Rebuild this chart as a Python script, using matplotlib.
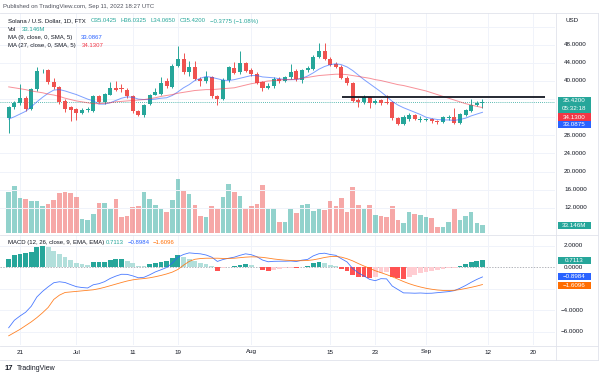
import matplotlib
matplotlib.use("Agg")
import matplotlib.pyplot as plt
from matplotlib.lines import Line2D
from matplotlib.patches import Rectangle
import numpy as np

# ---------------- data ----------------
open_ = [31.8, 34.2, 35.2, 36.3, 33.9, 38.2, 42.1, 42.4, 39.8, 38.6,
         35.6, 34.2, 33.9, 33.0, 33.6, 33.4, 36.7, 35.4, 37.0, 38.5,
         38.4, 38.1, 36.6, 33.3, 32.6, 34.9, 37.0, 37.1, 39.9, 38.7,
         43.4, 44.9, 42.0, 43.0, 40.5, 39.9, 40.8, 36.6, 36.0, 40.2,
         42.9, 42.0, 44.0, 42.4, 41.6, 39.7, 38.5, 38.8, 40.5, 40.0,
         40.8, 42.3, 40.2, 42.4, 42.7, 45.4, 46.7, 44.9, 43.8, 43.2,
         40.7, 39.5, 35.8, 35.3, 36.4, 35.2, 35.7, 35.3, 35.4, 31.8,
         30.6, 31.6, 32.5, 31.4, 31.5, 31.6, 31.2, 31.0, 31.8, 32.0,
         30.8, 32.5, 33.4, 34.7, 35.0425]
high = [34.5, 35.6, 39.3, 36.6, 38.5, 43.0, 42.6, 42.7, 40.7, 38.9,
        36.0, 34.5, 34.1, 34.0, 34.2, 36.9, 37.0, 37.4, 39.7, 40.1,
        39.4, 38.4, 37.0, 33.6, 35.0, 37.2, 38.5, 40.8, 40.6, 43.7,
        47.8, 46.2, 44.5, 44.5, 40.8, 42.1, 41.2, 37.0, 40.6, 43.3,
        44.2, 46.7, 44.3, 42.8, 41.9, 40.0, 39.5, 40.9, 40.9, 41.2,
        43.8, 42.6, 42.7, 43.3, 45.7, 48.4, 48.3, 45.2, 44.2, 43.5,
        41.0, 39.8, 36.2, 36.8, 36.7, 36.0, 36.1, 36.9, 35.6, 32.1,
        32.4, 32.9, 32.8, 32.3, 31.9, 31.9, 31.4, 32.3, 32.4, 34.0,
        33.0, 33.9, 36.0, 35.5, 36.0325]
low = [28.5, 33.8, 34.8, 33.4, 33.6, 37.8, 41.8, 39.4, 38.3, 34.9,
       33.2, 31.1, 31.5, 32.7, 33.1, 33.2, 35.1, 35.0, 36.8, 37.8,
       37.6, 36.3, 33.0, 32.2, 32.0, 34.6, 36.8, 36.9, 38.5, 38.4,
       43.0, 41.6, 41.2, 40.2, 38.8, 39.6, 36.3, 34.8, 35.8, 39.8,
       41.5, 41.6, 42.0, 41.2, 39.3, 37.7, 38.2, 38.5, 39.5, 39.7,
       40.5, 40.0, 39.6, 42.0, 42.4, 45.1, 44.6, 43.3, 42.9, 40.4,
       39.2, 35.3, 34.3, 35.0, 34.0, 34.9, 34.8, 34.9, 31.5, 30.2,
       30.3, 31.2, 31.3, 31.0, 31.1, 30.8, 30.6, 30.8, 31.5, 30.5,
       30.5, 32.2, 33.2, 34.4, 34.065]
close = [34.2, 35.2, 36.3, 33.9, 38.2, 42.1, 42.3, 39.8, 38.6, 35.4,
         33.8, 33.6, 33.0, 33.7, 33.75, 36.6, 35.4, 37.1, 38.5, 38.1,
         38.2, 36.6, 33.3, 32.6, 34.8, 37.0, 37.5, 39.6, 38.8, 43.4,
         44.9, 42.0, 43.1, 40.5, 39.9, 40.8, 36.6, 36.1, 40.3, 43.0,
         41.8, 44.0, 42.3, 41.5, 39.6, 38.5, 39.0, 40.5, 39.9, 40.8,
         42.0, 40.4, 42.4, 42.9, 45.4, 46.6, 44.9, 43.6, 43.2, 40.7,
         39.5, 35.6, 35.3, 36.5, 35.2, 35.6, 35.1, 35.1, 31.8, 30.6,
         32.0, 32.5, 31.6, 31.6, 31.6, 31.1, 31.0, 32.0, 32.0, 30.8,
         32.7, 33.6, 34.7, 35.1, 35.42]
volume_m = [173, 196, 145, 142, 135, 135, 115, 121, 138, 166,
            170, 167, 149, 61, 53, 80, 127, 124, 99, 140,
            69, 72, 109, 111, 173, 140, 117, 99, 90, 138,
            225, 177, 163, 117, 73, 69, 113, 102, 149, 203,
            171, 156, 105, 113, 121, 200, 101, 105, 47, 47,
            99, 86, 117, 121, 94, 99, 96, 134, 111, 145,
            90, 193, 116, 99, 116, 76, 73, 66, 111, 55,
            44, 88, 80, 75, 67, 63, 25, 28, 47, 99,
            55, 72, 87, 44, 33.146]
ma9 = [31.6, 32.1, 32.7, 33.3, 34.3, 35.4, 36.4, 37.3, 38.0, 38.1,
       37.8, 37.4, 37.0, 36.5, 36.0, 35.6, 34.9, 34.9, 35.2, 35.7,
       36.2, 36.5, 36.4, 36.0, 35.9, 35.9, 36.0, 36.2, 36.3, 36.8,
       37.6, 38.5, 39.2, 40.1, 40.6, 41.0, 40.8, 40.5, 40.2, 40.1,
       40.3, 40.6, 40.9, 41.2, 41.2, 40.9, 40.8, 40.7, 40.5, 40.3,
       40.3, 40.3, 40.6, 41.1, 41.8, 42.6, 43.2, 43.6, 43.8, 43.6,
       43.1, 42.3, 41.3, 40.3, 39.4, 38.5, 37.6, 36.6, 35.5, 34.7,
       34.1, 33.6, 33.1, 32.6, 32.0, 31.7, 31.5, 31.4, 31.4, 31.3,
       31.5, 31.8, 32.3, 32.7, 33.09]
ma27 = [38.7, 38.5, 38.3, 38.1, 37.8, 37.6, 37.4, 37.1, 36.9, 36.6,
        36.2, 35.9, 35.6, 35.4, 35.2, 35.0, 35.0, 35.1, 35.2, 35.4,
        35.5, 35.6, 35.7, 35.8, 35.9, 36.1, 36.3, 36.6, 36.8, 37.0,
        37.3, 37.5, 37.7, 37.9, 38.0, 38.1, 38.1, 38.2, 38.3, 38.4,
        38.5, 38.8, 39.1, 39.4, 39.6, 39.8, 40.0, 40.1, 40.2, 40.3,
        40.3, 40.4, 40.6, 40.8, 41.0, 41.2, 41.3, 41.4, 41.5, 41.5,
        41.4, 41.2, 41.0, 40.8, 40.6, 40.3, 40.1, 39.8, 39.5, 39.2,
        39.0, 38.7, 38.4, 38.1, 37.8, 37.4, 37.0, 36.6, 36.2, 35.8,
        35.4, 35.0, 34.7, 34.4, 34.13]
macd = [-5.65, -4.95, -4.55, -4.2, -3.64, -2.77, -2.25, -1.82, -1.44, -1.35,
        -1.42, -1.62, -1.81, -1.89, -1.93, -1.63, -1.53, -1.34, -1.04, -0.82,
        -0.65, -0.66, -0.8, -0.98, -0.93, -0.7, -0.43, -0.23, -0.02, 0.39,
        0.95, 1.2, 1.35, 1.3, 1.26, 1.15, 0.95, 0.55, 0.73, 0.85,
        0.95, 1.12, 1.26, 1.18, 0.99, 0.68, 0.52, 0.56, 0.57, 0.57,
        0.59, 0.54, 0.67, 0.74, 1.07, 1.27, 1.32, 1.2, 1.12, 0.8,
        0.5, -0.12, -0.52, -0.81, -1.13, -1.25, -1.06, -1.08, -1.75, -2.07,
        -2.39, -2.4, -2.42, -2.4, -2.43, -2.42, -2.37, -2.32, -2.27, -2.18,
        -1.96, -1.7, -1.4, -1.13, -0.8984]
signal = [-6.4, -6.1, -5.8, -5.45, -5.1, -4.7, -4.25, -3.75, -3.0, -2.6,
          -2.35, -2.3, -2.25, -2.2, -2.15, -2.1, -2.0, -1.87, -1.72, -1.57,
          -1.42, -1.28, -1.17, -1.1, -1.05, -0.98, -0.88, -0.76, -0.62, -0.45,
          -0.2, 0.2, 0.55, 0.75, 0.82, 0.85, 0.85, 0.85, 0.83, 0.83,
          0.85, 0.9, 0.95, 0.98, 0.97, 0.93, 0.86, 0.78, 0.72, 0.67,
          0.64, 0.62, 0.62, 0.64, 0.7, 0.8, 0.92, 1.0, 1.02, 0.95,
          0.8, 0.6, 0.35, 0.12, -0.1, -0.32, -0.5, -0.68, -0.88, -1.1,
          -1.33, -1.53, -1.7, -1.84, -1.96, -2.05, -2.12, -2.16, -2.17, -2.15,
          -2.08, -1.98, -1.87, -1.75, -1.6096]
hist = [0.75, 1.15, 1.25, 1.3, 1.46, 1.93, 2.0, 1.93, 1.56, 1.25,
        0.93, 0.68, 0.44, 0.31, 0.22, 0.47, 0.49, 0.53, 0.68, 0.75,
        0.77, 0.62, 0.37, 0.12, 0.12, 0.28, 0.45, 0.53, 0.6, 0.84,
        1.15, 1.0, 0.8, 0.55, 0.44, 0.3, 0.1, -0.3, -0.1, 0.02,
        0.1, 0.22, 0.31, 0.2, 0.02, -0.25, -0.34, -0.22, -0.15, -0.1,
        -0.05, -0.08, 0.05, 0.1, 0.37, 0.47, 0.4, 0.2, 0.1, -0.15,
        -0.3, -0.72, -0.87, -0.93, -1.03, -0.93, -0.56, -0.4, -0.87, -0.97,
        -1.06, -0.87, -0.72, -0.56, -0.47, -0.37, -0.25, -0.16, -0.1, -0.03,
        0.12, 0.28, 0.47, 0.62, 0.7113]

date_tick_index = [2, 12, 22, 30, 43, 57, 65, 74, 85, 93]
date_tick_labels = ["21", "Jul", "11", "19", "Aug", "15", "23", "Sep", "12", "20"]
price_grid = [52, 48, 44, 40, 36, 32, 28, 24, 20, 16, 12]
price_labels = [48, 44, 40, 28, 24, 20, 16, 12]
macd_grid = [2, 0, -2, -4, -6]
macd_labels = [2, 0, -4, -6]
resistance_level = 36.5
resistance_start, resistance_end = 59.1, 95.1
last_price = 35.42

# ---------------- style ----------------
UP, DOWN = "#26a69a", "#ef5350"
TXT = "#131722"
GRID = "#f0f3fa"
FAM = ["Liberation Sans", "DejaVu Sans"]
FS = 4.5

W, H = 600, 377
fig = plt.figure(figsize=(6, 3.77), dpi=100)
fig.patch.set_facecolor("white")

def rect(top, bottom, left=0, right=555):
    return [left / W, 1 - bottom / H, (right - left) / W, (bottom - top) / H]

XLIM = (-1.54, 96.86)
axv = fig.add_axes(rect(13, 234))
ax = fig.add_axes(rect(13, 234))
axm = fig.add_axes(rect(235, 345))
for a in (axv, ax, axm):
    a.set_xlim(*XLIM)
    a.axis("off")
ax.patch.set_alpha(0)
ax.set_ylim(6.225, 55.01)
axv.set_ylim(-2.9, 912)
axm.set_ylim(-7.26, 3.02)

n = len(close)
idx = np.arange(n)
up = np.array(close) >= np.array(open_)

# grids
for p in price_grid:
    ax.axhline(p, color=GRID, lw=0.7, zorder=0)
for m in macd_grid:
    if m != 0:
        axm.axhline(m, color=GRID, lw=0.7, zorder=0)
for t in date_tick_index:
    axv.axvline(t, color=GRID, lw=0.7, zorder=0)
    axm.axvline(t, color=GRID, lw=0.7, zorder=0)

# volume
axv.bar(idx, volume_m, width=0.82,
        color=[UP if u else DOWN for u in up], alpha=0.5, lw=0, zorder=1)

# candles
cols = [UP if u else DOWN for u in up]
ax.vlines(idx, low, high, colors=cols, lw=0.7, zorder=2)
body_lo = np.minimum(open_, close)
body_h = np.maximum(np.abs(np.array(close) - np.array(open_)), 0.12)
ax.bar(idx, body_h, bottom=body_lo, width=0.72, color=cols, lw=0, zorder=3)

# moving averages
ax.plot(idx, ma9, color="#2962ff", lw=0.7, alpha=0.6, zorder=4)
ax.plot(idx, ma27, color="#f23645", lw=0.7, alpha=0.55, zorder=4)

# last price dotted line and resistance line
ax.axhline(last_price, color=UP, lw=0.6, ls=(0, (1, 1.5)), zorder=1)
ax.hlines(resistance_level, resistance_start, resistance_end, color="#131722", lw=1.3, zorder=5)

# MACD
hcols = []
for i, h in enumerate(hist):
    prev = hist[i - 1] if i > 0 else None
    if h >= 0:
        hcols.append("#26a69a" if prev is None or h > prev else "#b2dfdb")
    else:
        hcols.append("#ff5252" if prev is None or h < prev else "#ffcdd2")
axm.axhline(0, color="#9598a1", lw=0.5, ls=(0, (2, 2)), zorder=1)
axm.bar(idx, hist, width=0.85, color=hcols, lw=0, zorder=2)
axm.plot(idx, macd, color="#2962ff", lw=0.6, alpha=0.85, zorder=3)
axm.plot(idx, signal, color="#ff6d00", lw=0.6, alpha=0.85, zorder=3)

# ---------------- axes labels ----------------
lx = 564 / 555
for p in price_labels:
    ax.text(lx, p, f"{p:.4f}", transform=ax.get_yaxis_transform(), ha="left", va="center",
            fontsize=FS, color=TXT, family=FAM, clip_on=False)
for m in macd_labels:
    s = f"{m:.4f}".replace("-", "\u2212")
    axm.text(lx if m >= 0 else lx - 3.5 / 555, m, s, transform=axm.get_yaxis_transform(),
             ha="left", va="center", fontsize=FS, color=TXT, family=FAM, clip_on=False)
for t, lab in zip(date_tick_index, date_tick_labels):
    axm.text(t, (345 - 352) / 110, lab, transform=axm.get_xaxis_transform(), ha="center",
             va="center", fontsize=FS, color=TXT, family=FAM, clip_on=False)

def T(x, y, s, color=TXT, size=FS, ha="left", **kw):
    fig.text(x / W, 1 - y / H, s, color=color, fontsize=size, ha=ha, va="center",
             family=FAM, **kw)

def box(top, bottom, color, lines, left=558, right=591):
    fig.patches.append(Rectangle((left / W, 1 - bottom / H), (right - left) / W,
                                 (bottom - top) / H, transform=fig.transFigure,
                                 facecolor=color, edgecolor="none", zorder=5))
    step = (bottom - top) / len(lines)
    for k, s in enumerate(lines):
        fig.text((left + right) / 2 / W, 1 - (top + step * (k + 0.5)) / H, s,
                 color="white", fontsize=FS, ha="center", va="center", family=FAM, zorder=6)

box(96.5, 112.5, UP, ["35.4200", "05:32:18"])
box(113.3, 120.8, "#f23645", ["34.1300"])
box(120.8, 128.3, "#2962ff", ["33.0875"])
box(221.5, 229, UP, ["33.146M"])
box(256.7, 263.5, UP, ["0.7113"])
box(273, 280.3, "#2962ff", ["\u22120.8984"])
box(281.5, 289, "#ff6d00", ["\u22121.6096"])

T(565, 20, "USD")

# header
T(3, 6.5, "Published on TradingView.com, Sep 11, 2022 18:27 UTC", color="#50535e", size=4.3)
T(8, 21, "Solana / U.S. Dollar, 1D, FTX", size=4.3)
T(91, 21, "O35.0425", color=UP, size=4.3)
T(120.5, 21, "H36.0325", color=UP, size=4.3)
T(150.5, 21, "L34.0650", color=UP, size=4.3)
T(180, 21, "C35.4200", color=UP, size=4.3)
T(210, 21, "\u22120.3775 (\u22121.08%)", color=UP, size=4.3)
T(8, 29.5, "Vol", size=4.3)
T(21.5, 29.5, "33.146M", color=UP, size=4.3)
T(8, 37.5, "MA (9, close, 0, SMA, 5)", size=4.3)
T(80.5, 37.5, "33.0867", color="#2962ff", size=4.3)
T(8, 45.5, "MA (27, close, 0, SMA, 5)", size=4.3)
T(81.5, 45.5, "34.1307", color="#f23645", size=4.3)
T(8, 242.3, "MACD (12, 26, close, 9, EMA, EMA)", size=4.3)
T(106, 242.3, "0.7113", color=UP, size=4.3)
T(127.5, 242.3, "\u22120.8984", color="#2962ff", size=4.3)
T(153, 242.3, "\u22121.6096", color="#ff6d00", size=4.3)

# footer
T(5, 368.5, "17", color=TXT, size=5.5, weight="bold")
T(17, 368.5, "TradingView", color=TXT, size=5)

# separators
def hline(y, x0, x1):
    fig.add_artist(Line2D([x0 / W, x1 / W], [1 - y / H, 1 - y / H], color="#e0e3eb", lw=0.6))
def vline(x, y0, y1):
    fig.add_artist(Line2D([x / W, x / W], [1 - y0 / H, 1 - y1 / H], color="#e0e3eb", lw=0.6))

hline(12.5, 0, 598)
hline(234.5, 0, 598)
hline(345.5, 0, 598)
hline(359.5, 0, 598)
vline(555.5, 12.5, 359.5)
vline(597.5, 12.5, 359.5)

fig.savefig("out.png", dpi=100, facecolor="white")
